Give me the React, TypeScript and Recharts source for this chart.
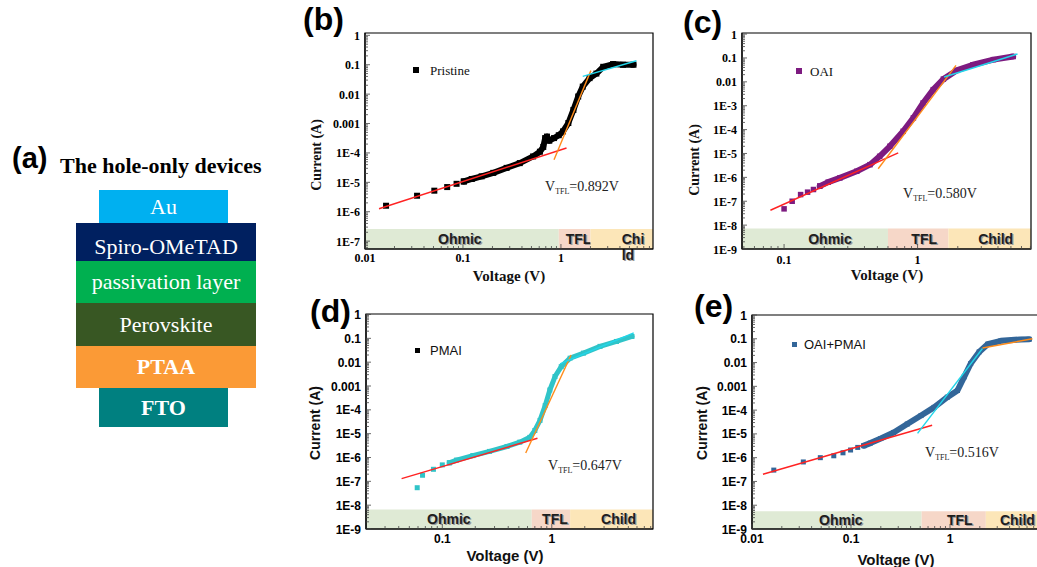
import React from 'react';
import { ScatterChart, Scatter, XAxis, YAxis, ReferenceArea } from 'recharts';

type Pt = { v: number; i: number };

// ---------------- Panel (b) Pristine ----------------
const pristineSparse: Pt[] = [
  { v: 0.0164, i: 1.6e-6 }, { v: 0.034, i: 3.5e-6 }, { v: 0.051, i: 5.2e-6 },
  { v: 0.069, i: 6.9e-6 }, { v: 0.086, i: 8.9e-6 }, { v: 0.102, i: 1.07e-5 },
];
const pristineDense: Pt[] = [
  { v: 0.102, i: 1.07e-5 }, { v: 0.123, i: 1.3e-5 }, { v: 0.155, i: 1.6e-5 }, { v: 0.204, i: 2.1e-5 },
  { v: 0.279, i: 3.1e-5 }, { v: 0.38, i: 4.5e-5 }, { v: 0.52, i: 7.6e-5 }, { v: 0.61, i: 1.1e-4 },
  { v: 0.66, i: 1.6e-4 }, { v: 0.69, i: 3.2e-4 }, { v: 0.72, i: 3.6e-4 }, { v: 0.76, i: 2.6e-4 },
  { v: 0.85, i: 3.2e-4 }, { v: 0.95, i: 4.0e-4 }, { v: 1.05, i: 5.4e-4 }, { v: 1.19, i: 1.04e-3 },
  { v: 1.34, i: 2.9e-3 }, { v: 1.5, i: 8.3e-3 }, { v: 1.67, i: 0.018 }, { v: 1.96, i: 0.035 },
  { v: 2.3, i: 0.05 }, { v: 2.7, i: 0.085 }, { v: 3.4, i: 0.105 }, { v: 4.3, i: 0.1 }, { v: 5.5, i: 0.1 },
];
const pristineOhmicFit: Pt[] = [{ v: 0.0139, i: 1.26e-6 }, { v: 1.14, i: 1.47e-4 }];
const pristineTflFit: Pt[] = [{ v: 0.85, i: 5.9e-5 }, { v: 2.02, i: 0.063 }];
const pristineChildFit: Pt[] = [{ v: 1.67, i: 0.04 }, { v: 5.9, i: 0.137 }];
const pristineBands = [0.95, 2.0];

// ---------------- Panel (c) OAI ----------------
const oaiSparse: Pt[] = [
  { v: 0.1, i: 4.8e-8 }, { v: 0.115, i: 1.0e-7 }, { v: 0.133, i: 1.9e-7 },
  { v: 0.15, i: 2.4e-7 }, { v: 0.166, i: 3.1e-7 }, { v: 0.185, i: 4.3e-7 },
];
const oaiDense: Pt[] = [
  { v: 0.185, i: 4.3e-7 }, { v: 0.214, i: 6.3e-7 }, { v: 0.262, i: 9.5e-7 }, { v: 0.35, i: 1.8e-6 },
  { v: 0.44, i: 3.4e-6 }, { v: 0.52, i: 7.6e-6 }, { v: 0.62, i: 2.0e-5 }, { v: 0.78, i: 8.5e-5 },
  { v: 0.93, i: 3.1e-4 }, { v: 1.1, i: 1.3e-3 }, { v: 1.31, i: 4.7e-3 }, { v: 1.56, i: 0.013 },
  { v: 1.96, i: 0.03 }, { v: 2.6, i: 0.052 }, { v: 3.7, i: 0.085 }, { v: 5.2, i: 0.115 },
];
const oaiOhmicFit: Pt[] = [{ v: 0.079, i: 4.2e-8 }, { v: 0.716, i: 1.06e-5 }];
const oaiTflFit: Pt[] = [{ v: 0.507, i: 2.3e-6 }, { v: 1.94, i: 0.049 }];
const oaiChildFit: Pt[] = [{ v: 1.58, i: 0.016 }, { v: 5.6, i: 0.147 }];
const oaiBands = [0.6, 1.7];

// ---------------- Panel (d) PMAI ----------------
const pmaiSparse: Pt[] = [
  { v: 0.059, i: 5.4e-8 }, { v: 0.066, i: 1.8e-7 }, { v: 0.083, i: 3.2e-7 },
  { v: 0.1, i: 4.9e-7 }, { v: 0.116, i: 6.0e-7 },
];
const pmaiDense: Pt[] = [
  { v: 0.116, i: 6.0e-7 }, { v: 0.135, i: 7.8e-7 }, { v: 0.19, i: 1.2e-6 }, { v: 0.27, i: 1.8e-6 },
  { v: 0.39, i: 2.9e-6 }, { v: 0.51, i: 4.4e-6 }, { v: 0.63, i: 7.0e-6 }, { v: 0.7, i: 1.36e-5 },
  { v: 0.78, i: 3.6e-5 }, { v: 0.87, i: 1.5e-4 }, { v: 0.96, i: 6.8e-4 }, { v: 1.07, i: 2.5e-3 },
  { v: 1.22, i: 6.5e-3 }, { v: 1.47, i: 0.0147 }, { v: 1.95, i: 0.024 }, { v: 2.76, i: 0.046 },
  { v: 3.9, i: 0.074 }, { v: 5.4, i: 0.12 },
];
const pmaiOhmicFit: Pt[] = [{ v: 0.0425, i: 1.3e-7 }, { v: 0.74, i: 6.4e-6 }];
const pmaiTflFit: Pt[] = [{ v: 0.578, i: 1.55e-6 }, { v: 1.5, i: 0.02 }];
const pmaiChildFit: Pt[] = [{ v: 1.19, i: 0.0085 }, { v: 5.6, i: 0.168 }];
const pmaiBands = [0.656, 1.47];

// ---------------- Panel (e) OAI+PMAI ----------------
const comboSparse: Pt[] = [
  { v: 0.0166, i: 3.0e-7 }, { v: 0.033, i: 6.6e-7 }, { v: 0.049, i: 1.0e-6 }, { v: 0.067, i: 1.2e-6 },
  { v: 0.083, i: 1.6e-6 }, { v: 0.099, i: 2.1e-6 }, { v: 0.117, i: 2.7e-6 }, { v: 0.135, i: 3.2e-6 },
];
const comboDense: Pt[] = [
  { v: 0.135, i: 3.2e-6 }, { v: 0.157, i: 4.1e-6 }, { v: 0.2, i: 6.4e-6 }, { v: 0.27, i: 1.15e-5 },
  { v: 0.37, i: 2.6e-5 }, { v: 0.51, i: 5.9e-5 }, { v: 0.69, i: 1.3e-4 }, { v: 0.94, i: 3.5e-4 },
  { v: 1.19, i: 6.7e-4 }, { v: 1.39, i: 2.5e-3 }, { v: 1.62, i: 9.1e-3 }, { v: 1.97, i: 0.028 },
  { v: 2.4, i: 0.059 }, { v: 3.26, i: 0.082 }, { v: 5.2, i: 0.094 }, { v: 6.3, i: 0.095 },
];
const comboOhmicFit: Pt[] = [{ v: 0.0129, i: 2.0e-7 }, { v: 0.66, i: 2.3e-5 }];
const comboTflFit: Pt[] = [{ v: 0.47, i: 1.05e-5 }, { v: 2.13, i: 0.039 }];
const comboChildFit: Pt[] = [{ v: 2.13, i: 0.041 }, { v: 6.8, i: 0.1 }];
const comboBands = [0.517, 2.3];

// ---------------- Tick labels ----------------
const xMajor3 = [0.01, 0.1, 1];
const xLabels3 = ['0.01', '0.1', '1'];
const xMajor2 = [0.1, 1];
const xLabels2 = ['0.1', '1'];
const yMajor8 = [1, 0.1, 0.01, 0.001, 1e-4, 1e-5, 1e-6, 1e-7];
const yLabels8 = ['1', '0.1', '0.01', '0.001', '1E-4', '1E-5', '1E-6', '1E-7'];
const yMajor10 = [1, 0.1, 0.01, 0.001, 1e-4, 1e-5, 1e-6, 1e-7, 1e-8, 1e-9];
const yLabels10C = ['1', '0.1', '0.01', '1E-3', '1E-4', '1E-5', '1E-6', '1E-7', '1E-8', '1E-9'];
const yLabels10 = ['1', '0.1', '0.01', '0.001', '1E-4', '1E-5', '1E-6', '1E-7', '1E-8', '1E-9'];
const bandNames = ['Ohmic', 'TFL', 'Child'];

// ---------------- Layer stack (a) ----------------
const layerNames = ['Au', 'Spiro-OMeTAD', 'passivation layer', 'Perovskite', 'PTAA', 'FTO'];

const SERIF = '"Liberation Serif", "Times New Roman", serif';
const SANS = '"Liberation Sans", Arial, sans-serif';

const RED = '#ff2222';
const ORANGE = '#ff8c1a';
const CYAN = '#22d6ea';

function logTicks(domain: [number, number]): number[] {
  const out: number[] = [];
  const lo = Math.floor(Math.log10(domain[0]));
  const hi = Math.ceil(Math.log10(domain[1]));
  for (let e = lo; e <= hi; e++) {
    for (let m = 1; m <= 9; m++) {
      const v = m * Math.pow(10, e);
      if (v >= domain[0] * 0.9999 && v <= domain[1] * 1.0001) out.push(v);
    }
  }
  return out;
}

function majorIndex(majors: number[], v: number): number {
  return majors.findIndex((m) => Math.abs(Math.log10(m) - Math.log10(v)) < 1e-6);
}

function makeXTick(majors: number[], labels: string[], font: React.CSSProperties, dy: number) {
  return (props: any) => {
    const { x, y, payload } = props;
    const idx = majorIndex(majors, payload.value);
    const major = idx >= 0;
    return (
      <g>
        <line x1={x} x2={x} y1={y} y2={y - (major ? 5 : 3)} stroke="#444" strokeWidth={0.8} />
        {major && (
          <text x={x} y={y + dy} textAnchor="middle" style={font} fill="#000">
            {labels[idx]}
          </text>
        )}
      </g>
    );
  };
}

function makeYTick(majors: number[], labels: string[], font: React.CSSProperties) {
  return (props: any) => {
    const { x, y, payload } = props;
    const idx = majorIndex(majors, payload.value);
    const major = idx >= 0;
    return (
      <g>
        <line x1={x} x2={x + (major ? 5 : 3)} y1={y} y2={y} stroke="#444" strokeWidth={0.8} />
        {major && (
          <text x={x - 5} y={y + 4.5} textAnchor="end" style={font} fill="#000">
            {labels[idx]}
          </text>
        )}
      </g>
    );
  };
}

function bandLabel(lines: string[], dx: number, anchor: 'middle' | 'start') {
  return (props: any) => {
    const vb = props.viewBox;
    if (!vb) return null;
    const cx = vb.x + vb.width / 2 + dx;
    const cy = vb.y + vb.height / 2 + 5;
    const st: React.CSSProperties = { fontFamily: SANS, fontWeight: 700, fontSize: 14 };
    return (
      <g>
        {lines.map((t, k) => (
          <g key={k}>
            <text x={cx + 1.2} y={cy + k * 16 + 1.2} textAnchor={anchor} style={st} fill="#9a9a9a">{t}</text>
            <text x={cx} y={cy + k * 16} textAnchor={anchor} style={st} fill="#1e1e1e">{t}</text>
          </g>
        ))}
      </g>
    );
  };
}

const squareShape = (size: number, color: string) => (props: any) => {
  const { cx, cy } = props;
  if (cx == null || cy == null) return <g />;
  return <rect x={cx - size / 2} y={cy - size / 2} width={size} height={size} fill={color} />;
};
const noShape = () => <g />;

type PanelCfg = {
  box: { left: number; top: number; width: number; height: number };
  margin: { top: number; right: number; bottom: number; left: number };
  yWidth: number;
  xHeight: number;
  xDomain: [number, number];
  yDomain: [number, number];
  xMajor: number[];
  xLabels: string[];
  yMajor: number[];
  yLabels: string[];
  tickFont: React.CSSProperties;
  xTickDy: number;
  sparse: Pt[];
  dense: Pt[];
  color: string;
  square: number;
  bandWidth: number;
  fits: { data: Pt[]; color: string }[];
  bands: number[];
  bandTop: number;
  labelDx: number[];
  childLines: string[];
  childAnchor: 'middle' | 'start';
};

const bandFills = ['#dfead5', '#f6d7c8', '#fce6b8'];

function Panel({ cfg }: { cfg: PanelCfg }) {
  const [x0, x1] = cfg.xDomain;
  const [y0, y1] = cfg.yDomain;
  const edges = [x0, cfg.bands[0], cfg.bands[1], x1];
  return (
    <div style={{ position: 'absolute', left: cfg.box.left, top: cfg.box.top }}>
      <ScatterChart width={cfg.box.width} height={cfg.box.height} margin={cfg.margin}>
        {bandNames.map((n, k) => (
          <ReferenceArea
            key={n}
            x1={edges[k]}
            x2={edges[k + 1]}
            y1={y0}
            y2={cfg.bandTop}
            fill={bandFills[k]}
            fillOpacity={1}
            stroke="none"
            ifOverflow="hidden"
            label={bandLabel(k === 2 ? cfg.childLines : [n], cfg.labelDx[k], k === 2 ? cfg.childAnchor : 'middle')}
          />
        ))}
        <XAxis
          dataKey="v"
          type="number"
          scale="log"
          domain={cfg.xDomain}
          allowDataOverflow
          ticks={logTicks(cfg.xDomain)}
          interval={0}
          height={cfg.xHeight}
          tickSize={0}
          tickMargin={0}
          tickLine={false}
          axisLine={{ stroke: '#000', strokeWidth: 1.2 }}
          tick={makeXTick(cfg.xMajor, cfg.xLabels, cfg.tickFont, cfg.xTickDy)}
        />
        <YAxis
          dataKey="i"
          type="number"
          scale="log"
          domain={cfg.yDomain}
          allowDataOverflow
          ticks={logTicks(cfg.yDomain)}
          interval={0}
          width={cfg.yWidth}
          tickSize={0}
          tickMargin={0}
          tickLine={false}
          axisLine={{ stroke: '#000', strokeWidth: 1.2 }}
          tick={makeYTick(cfg.yMajor, cfg.yLabels, cfg.tickFont)}
        />
        <Scatter
          data={cfg.dense}
          fill={cfg.color}
          line={{ stroke: cfg.color, strokeWidth: cfg.bandWidth, strokeLinejoin: 'round', strokeLinecap: 'round' }}
          shape={squareShape(cfg.square, cfg.color)}
          isAnimationActive={false}
        />
        <Scatter data={cfg.sparse} fill={cfg.color} shape={squareShape(cfg.square, cfg.color)} isAnimationActive={false} />
        {cfg.fits.map((f, k) => (
          <Scatter
            key={k}
            data={f.data}
            fill={f.color}
            line={{ stroke: f.color, strokeWidth: 1.4 }}
            shape={noShape}
            isAnimationActive={false}
          />
        ))}
        <ReferenceArea x1={x0} x2={x1} y1={y0} y2={y1} fill="none" stroke="#000" strokeWidth={1.2} ifOverflow="visible" />
      </ScatterChart>
    </div>
  );
}

const serifTick: React.CSSProperties = { fontFamily: SERIF, fontWeight: 700, fontSize: 12 };
const sansTick: React.CSSProperties = { fontFamily: SANS, fontWeight: 700, fontSize: 12 };

const cfgB: PanelCfg = {
  box: { left: 300, top: 0, width: 360, height: 290 },
  margin: { top: 33, right: 7, bottom: 0, left: 0 },
  yWidth: 65, xHeight: 41,
  xDomain: [0.01, 8.7], yDomain: [5.4e-8, 1.2],
  xMajor: xMajor3, xLabels: xLabels3, yMajor: yMajor8, yLabels: yLabels8,
  tickFont: serifTick, xTickDy: 13,
  sparse: pristineSparse, dense: pristineDense, color: '#000000', square: 6, bandWidth: 6,
  fits: [{ data: pristineOhmicFit, color: RED }, { data: pristineTflFit, color: ORANGE }, { data: pristineChildFit, color: CYAN }],
  bands: pristineBands, bandTop: 2.6e-7, labelDx: [-2, 4, 0], childLines: ['Chi', 'ld'], childAnchor: 'start',
};
const cfgC: PanelCfg = {
  box: { left: 680, top: 0, width: 357, height: 290 },
  margin: { top: 33, right: 6, bottom: 0, left: 0 },
  yWidth: 62, xHeight: 41,
  xDomain: [0.0484, 7.07], yDomain: [1e-9, 1.11],
  xMajor: xMajor2, xLabels: xLabels2, yMajor: yMajor10, yLabels: yLabels10C,
  tickFont: serifTick, xTickDy: 15,
  sparse: oaiSparse, dense: oaiDense, color: '#7d1b80', square: 5.5, bandWidth: 6,
  fits: [{ data: oaiOhmicFit, color: RED }, { data: oaiTflFit, color: ORANGE }, { data: oaiChildFit, color: CYAN }],
  bands: oaiBands, bandTop: 7.2e-9, labelDx: [15, 6, 6], childLines: ['Child'], childAnchor: 'middle',
};
const cfgD: PanelCfg = {
  box: { left: 300, top: 290, width: 360, height: 277 },
  margin: { top: 24, right: 7, bottom: 0, left: 0 },
  yWidth: 66, xHeight: 38,
  xDomain: [0.0201, 8.4], yDomain: [1e-9, 1.05],
  xMajor: xMajor2, xLabels: xLabels2, yMajor: yMajor10, yLabels: yLabels10,
  tickFont: sansTick, xTickDy: 14,
  sparse: pmaiSparse, dense: pmaiDense, color: '#30c4c8', square: 5, bandWidth: 5,
  fits: [{ data: pmaiOhmicFit, color: RED }, { data: pmaiTflFit, color: ORANGE }, { data: pmaiChildFit, color: CYAN }],
  bands: pmaiBands, bandTop: 6.6e-9, labelDx: [0, 4, 7], childLines: ['Child'], childAnchor: 'middle',
};
const cfgE: PanelCfg = {
  box: { left: 680, top: 290, width: 380, height: 277 },
  margin: { top: 25, right: 11, bottom: 0, left: 0 },
  yWidth: 72, xHeight: 38,
  xDomain: [0.01, 10], yDomain: [1e-9, 1],
  xMajor: xMajor3, xLabels: xLabels3, yMajor: yMajor10, yLabels: yLabels10,
  tickFont: sansTick, xTickDy: 14,
  sparse: comboSparse, dense: comboDense, color: '#336699', square: 5, bandWidth: 6,
  fits: [{ data: comboOhmicFit, color: RED }, { data: comboTflFit, color: CYAN }, { data: comboChildFit, color: ORANGE }],
  bands: comboBands, bandTop: 5.6e-9, labelDx: [4, 6, 0], childLines: ['Child'], childAnchor: 'middle',
};

const abs = (l: number, t: number, extra: React.CSSProperties = {}): React.CSSProperties => ({
  position: 'absolute', left: l, top: t, whiteSpace: 'nowrap', lineHeight: 1, ...extra,
});

function VLabel({ cx, cy, text, font }: { cx: number; cy: number; text: string; font: React.CSSProperties }) {
  return (
    <div style={{ ...abs(cx, cy), transform: 'translate(-50%, -50%) rotate(-90deg)', ...font }}>{text}</div>
  );
}
function HLabel({ cx, cy, text, font }: { cx: number; cy: number; text: string; font: React.CSSProperties }) {
  return <div style={{ ...abs(cx, cy), transform: 'translate(-50%, -50%)', ...font }}>{text}</div>;
}
function Vtfl({ left, baseline, value }: { left: number; baseline: number; value: string }) {
  return (
    <div style={{ ...abs(left, baseline - 11.7), fontFamily: SERIF, fontSize: 14, color: '#222' }}>
      V<span style={{ fontSize: 8, position: 'relative', top: 3 }}>TFL</span>={value}
    </div>
  );
}
function Legend({ sx, sy, size, color, tx, text, font }: { sx: number; sy: number; size: number; color: string; tx: number; text: string; font: string }) {
  return (
    <>
      <div style={{ position: 'absolute', left: sx - size / 2, top: sy - size / 2, width: size, height: size, background: color }} />
      <div style={{ ...abs(tx, sy), transform: 'translateY(-50%)', fontFamily: font, fontSize: 13, color: '#111' }}>{text}</div>
    </>
  );
}

const layerBoxes = [
  { l: 99, t: 190, w: 129, h: 33, bg: '#00b0f0', bold: false, pad: 0 },
  { l: 76, t: 223, w: 180, h: 38, bg: '#002060', bold: false, pad: 9 },
  { l: 76, t: 261, w: 180, h: 42, bg: '#00b050', bold: false, pad: 0 },
  { l: 76, t: 303, w: 180, h: 43, bg: '#385723', bold: false, pad: 0 },
  { l: 76, t: 346, w: 180, h: 42, bg: '#fb9a36', bold: true, pad: 0 },
  { l: 99, t: 388, w: 129, h: 39, bg: '#008080', bold: true, pad: 0 },
];

export default function App() {
  const letter: React.CSSProperties = { fontFamily: SANS, fontWeight: 700, fontSize: 32, color: '#000' };
  const serifTitle = { fontFamily: SERIF, fontWeight: 700, fontSize: 15, color: '#111' };
  const serifTitleV = { fontFamily: SERIF, fontWeight: 700, fontSize: 14, color: '#111' };
  const sansTitle = { fontFamily: SANS, fontWeight: 700, fontSize: 15, color: '#111' };
  const sansTitleV = { fontFamily: SANS, fontWeight: 700, fontSize: 14, color: '#111' };
  return (
    <div style={{ position: 'absolute', left: 0, top: 0, width: 1037, height: 567, overflow: 'hidden', background: '#fff' }}>
      {/* panel (a) */}
      <div style={{ ...abs(12, 144), fontFamily: SANS, fontWeight: 700, fontSize: 29 }}>(a)</div>
      <div style={{ ...abs(60, 155), fontFamily: SERIF, fontWeight: 700, fontSize: 22 }}>The hole-only devices</div>
      {layerBoxes.map((b, k) => (
        <div
          key={k}
          style={{
            position: 'absolute', left: b.l, top: b.t, width: b.w, height: b.h, background: b.bg,
            display: 'flex', alignItems: 'center', justifyContent: 'center', paddingTop: b.pad, boxSizing: 'border-box',
            color: '#fff', fontFamily: SERIF, fontSize: 22, fontWeight: b.bold ? 700 : 400, whiteSpace: 'nowrap',
          }}
        >
          {layerNames[k]}
        </div>
      ))}

      <Panel cfg={cfgB} />
      <Panel cfg={cfgC} />
      <Panel cfg={cfgD} />
      <Panel cfg={cfgE} />

      {/* panel letters */}
      <div style={{ ...abs(303, 3), ...letter }}>(b)</div>
      <div style={{ ...abs(683, 6), ...letter }}>(c)</div>
      <div style={{ ...abs(310, 295), ...letter }}>(d)</div>
      <div style={{ ...abs(694, 290), ...letter }}>(e)</div>

      {/* axis titles */}
      <VLabel cx={317} cy={155} text="Current (A)" font={serifTitleV} />
      <HLabel cx={509} cy={276} text="Voltage (V)" font={serifTitle} />
      <VLabel cx={695} cy={160} text="Current (A)" font={serifTitleV} />
      <HLabel cx={887} cy={275} text="Voltage (V)" font={serifTitle} />
      <VLabel cx={315} cy={423} text="Current (A)" font={sansTitleV} />
      <HLabel cx={505} cy={555} text="Voltage (V)" font={sansTitle} />
      <VLabel cx={702} cy={423} text="Current (A)" font={sansTitleV} />
      <HLabel cx={896} cy={559} text="Voltage (V)" font={sansTitle} />

      {/* legends */}
      <Legend sx={416} sy={70} size={6} color="#000" tx={430} text="Pristine" font={SERIF} />
      <Legend sx={799} sy={71} size={5.5} color="#7d1b80" tx={810} text="OAI" font={SERIF} />
      <Legend sx={417} sy={350} size={5} color="#000" tx={430} text="PMAI" font={SANS} />
      <Legend sx={794} sy={344} size={5} color="#336699" tx={804} text="OAI+PMAI" font={SANS} />

      {/* V_TFL annotations */}
      <Vtfl left={545} baseline={192} value="0.892V" />
      <Vtfl left={903} baseline={199} value="0.580V" />
      <Vtfl left={548} baseline={471} value="0.647V" />
      <Vtfl left={925} baseline={458} value="0.516V" />
    </div>
  );
}
